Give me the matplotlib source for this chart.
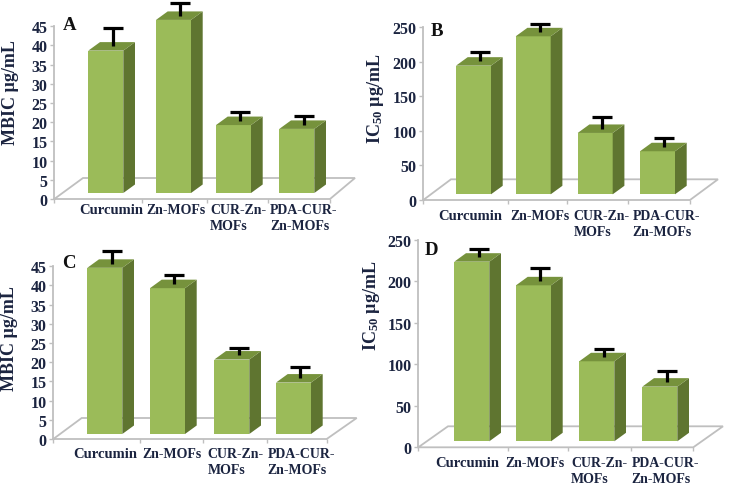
import matplotlib
matplotlib.use('Agg')
import matplotlib.pyplot as plt
from matplotlib.patches import Polygon

plt.rcParams.update({
    'font.family': 'Liberation Serif',
    'font.weight': 'bold',
    'mathtext.fontset': 'custom',
    'mathtext.rm': 'Liberation Serif:bold',
    'mathtext.bf': 'Liberation Serif:bold',
    'mathtext.default': 'rm',
})

W, H = 729, 489
FRONT = '#9BBB59'
SIDE = '#5F7530'
TOP = '#76923C'
GRID = '#BFBFBF'
INK = '#1B2440'
DX, DY = 11.7, 8.5   # bar depth, pixels

cats = ['Curcumin', 'Zn-MOFs', 'CUR-Zn-\nMOFs', 'PDA-CUR-\nZn-MOFs']
cat_sizes = [10.5, 10, 10, 10]

# values
vals_a = [37.1, 45.1, 17.7, 16.7]
errs_a = [4.7, 3.2, 2.3, 2.2]
vals_b = [186.2, 228.7, 88.8, 62.3]
errs_b = [13.5, 12, 17, 13]
vals_c = [43.3, 38, 19.4, 13.4]
errs_c = [3.3, 2.3, 2, 3]
vals_d = [216.6, 188.1, 96.5, 65.9]
errs_d = [9.6, 15.3, 10, 14.2]

# panel layout in image pixels
panels = [
    dict(name='A', vals=vals_a, errs=errs_a, ymax=45, step=5, ylabel='MBIC µg/mL',
         x0=54.3, y0=200, ytop=27.3, base=194, right=330, back=(83, 355, 179),
         lefts=[88.3, 156, 216, 279.3], ticks=[141.7, 207.3, 268.3],
         cat_x=[79, 146.7, 210, 270], cat_y=203.5, letter=(63, 25), ylab_x=11, ylab_y=93),
    dict(name='B', vals=vals_b, errs=errs_b, ymax=250, step=50, ylabel='IC$_{50}$ µg/mL',
         x0=423.3, y0=201, ytop=28.3, base=195.3, right=690, back=(451, 718, 180.3),
         lefts=[456, 515.7, 577.7, 640], ticks=[507.7, 566.7, 628.3],
         cat_x=[438.3, 510, 573.3, 632.7], cat_y=209.5, letter=(431, 31), ylab_x=375, ylab_y=99),
    dict(name='C', vals=vals_c, errs=errs_c, ymax=45, step=5, ylabel='MBIC µg/mL',
         x0=53.3, y0=440, ytop=267.3, base=435, right=326.7, back=(81.7, 356.7, 419),
         lefts=[87.3, 150, 214.3, 276], ticks=[140, 202.7, 266.7],
         cat_x=[73.3, 142.7, 207.3, 267.7], cat_y=448.5, letter=(62, 264), ylab_x=10, ylab_y=339),
    dict(name='D', vals=vals_d, errs=errs_d, ymax=250, step=50, ylabel='IC$_{50}$ µg/mL',
         x0=418.3, y0=448.3, ytop=241, base=442.3, right=693.3, back=(448, 723, 427.3),
         lefts=[454.3, 516, 579.3, 642.3], ticks=[507.7, 568.3, 631],
         cat_x=[435, 505.7, 571, 631.7], cat_y=457, letter=(425, 251), ylab_x=372, ylab_y=306),
]
BAR_W = 35

fig = plt.figure(figsize=(W / 100, H / 100), dpi=100, facecolor='white')

for p in panels:
    x0, y0, ytop = p['x0'], p['y0'], p['ytop']
    back_l, back_r, back_y = p['back']
    ax = fig.add_axes([x0 / W, 1 - y0 / H, (back_r - x0) / W, (y0 - ytop) / H])
    ax.patch.set_visible(False)
    ax.set_xlim(x0, back_r)
    ax.set_ylim(0, p['ymax'])
    per_px = p['ymax'] / (y0 - ytop)   # data units for one pixel
    dy = DY * per_px
    bottom = (y0 - p['base']) * per_px
    back_val = (y0 - back_y) * per_px

    # floor
    ax.plot([x0, back_l, back_r, p['right'], x0], [0, back_val, back_val, 0, 0],
            color=GRID, lw=1.3, zorder=1, clip_on=False, solid_joinstyle='miter')

    # bars, front face through ax.bar, depth faces as polygons
    bars = ax.bar(p['lefts'], p['vals'], BAR_W, bottom=bottom, align='edge', color=FRONT, zorder=3)
    for bar in bars:
        bar.set_clip_on(False)
    for left, v in zip(p['lefts'], p['vals']):
        t = bottom + v
        r = left + BAR_W
        ax.add_patch(Polygon([(r, bottom), (r + DX, bottom + dy), (r + DX, t + dy), (r, t)],
                             color=SIDE, zorder=3, clip_on=False, lw=0))
        ax.add_patch(Polygon([(left, t), (left + DX, t + dy), (r + DX, t + dy), (r, t)],
                             color=TOP, zorder=3, clip_on=False, lw=0))

    # error bars start in the middle of the top face, upper cap only
    ex = [left + BAR_W / 2 + DX / 2 + 1 for left in p['lefts']]
    ey = [bottom + v + dy / 2 for v in p['vals']]
    eb = ax.errorbar(ex, ey, yerr=[[0] * 4, p['errs']], fmt='none', ecolor='black',
                     elinewidth=2.3, capsize=7, capthick=2.3, zorder=4, clip_on=False)
    for art in list(eb[1]) + list(eb[2]):
        art.set_clip_on(False)
    eb[1][0].set_visible(False)

    for side in ['top', 'right', 'bottom']:
        ax.spines[side].set_visible(False)
    ax.spines['left'].set_color(GRID)
    ax.spines['left'].set_linewidth(1.3)
    ax.set_yticks(range(0, p['ymax'] + 1, p['step']))
    ax.tick_params(axis='y', length=3, width=1, color=GRID, labelsize=11.5,
                   labelcolor=INK, pad=2)
    ax.set_xticks([x0] + p['ticks'] + [p['right']])
    ax.set_xticklabels([])
    ax.tick_params(axis='x', length=3, width=1, color=GRID, direction='out')

    for name, cx, fs in zip(cats, p['cat_x'], cat_sizes):
        fig.text(cx / W, 1 - p['cat_y'] / H, name, ha='left', va='top', fontsize=fs,
                 color=INK, linespacing=1.3)
    fig.text(p['letter'][0] / W, 1 - p['letter'][1] / H, p['name'], ha='left', va='center',
             fontsize=13.5, color='#111111')
    fig.text(p['ylab_x'] / W, 1 - p['ylab_y'] / H, p['ylabel'], rotation=90, ha='center',
             va='center', fontsize=13, color=INK)

fig.savefig('out.png', dpi=100, facecolor='white')
